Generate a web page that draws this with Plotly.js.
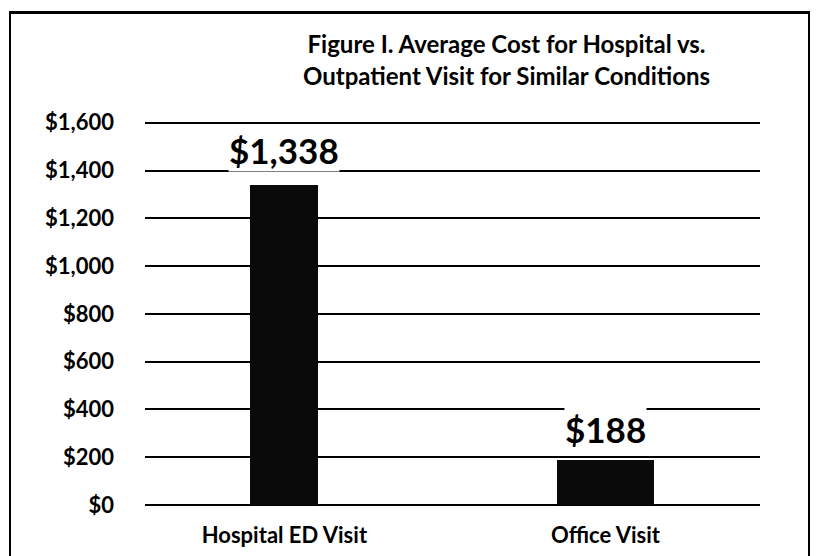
<!DOCTYPE html>
<html><head><meta charset="utf-8">
<script src="https://cdn.plot.ly/plotly-3.0.1.min.js"></script>
<style>body{margin:0;background:#fff}#frame{position:absolute;left:9px;top:11px;width:797px;height:560px;border:2px solid #000;border-top-width:3px;pointer-events:none}</style>
</head><body>
<div id="chart" style="width:817px;height:556px"></div>
<div id="frame"></div>
<script>
const categories = ["Hospital ED Visit", "Office Visit"];
const costs = [1338, 188];
const costLabels = ["$1,338", "$188"];
const tickValues = [0, 200, 400, 600, 800, 1000, 1200, 1400, 1600];
const tickLabels = ["$0", "$200", "$400", "$600", "$800", "$1,000", "$1,200", "$1,400", "$1,600"];

const F = "Lato, 'Open Sans', sans-serif";
const labelShift = [13, 9];
Plotly.newPlot("chart", [{
  type: "bar",
  x: categories,
  y: costs,
  width: [0.212, 0.302],
  marker: {color: "#0a0a0a"},
  hoverinfo: "none"
}], {
  width: 817, height: 556,
  margin: {l: 145, r: 57, t: 118, b: 51},
  paper_bgcolor: "#fff", plot_bgcolor: "#fff",
  showlegend: false,
  title: {text: "<b>Figure I. Average Cost for Hospital vs.<br>Outpatient Visit for Similar Conditions</b>",
          font: {family: F, size: 24, color: "#000", weight: 700}, x: 0.62, xanchor: "center", y: 0.904, yanchor: "top", yref: "container"},
  annotations: categories.map((c, i) => ({
    x: c, y: costs[i], text: "<b>" + costLabels[i] + "</b>", showarrow: false,
    xanchor: "center", yanchor: "bottom", yshift: labelShift[i], bgcolor: "#fff", borderpad: 0,
    font: {family: F, size: 35, color: "#000"}
  })),
  xaxis: {type: "category", range: [-0.434, 1.481], showgrid: false, showline: false, zeroline: false,
          ticks: "", ticklabelstandoff: 15, tickfont: {family: F, size: 22, color: "#000", weight: 700}},
  yaxis: {range: [0, 1620], tickvals: tickValues, ticktext: tickLabels, showgrid: true, gridcolor: "#000", gridwidth: 2,
          zeroline: true, zerolinecolor: "#000", zerolinewidth: 2, showline: false, ticks: "",
          ticklabelstandoff: 30, tickfont: {family: F, size: 22, color: "#000", weight: 700}},
  bargap: 0
}, {staticPlot: true});
</script>
</body></html>
